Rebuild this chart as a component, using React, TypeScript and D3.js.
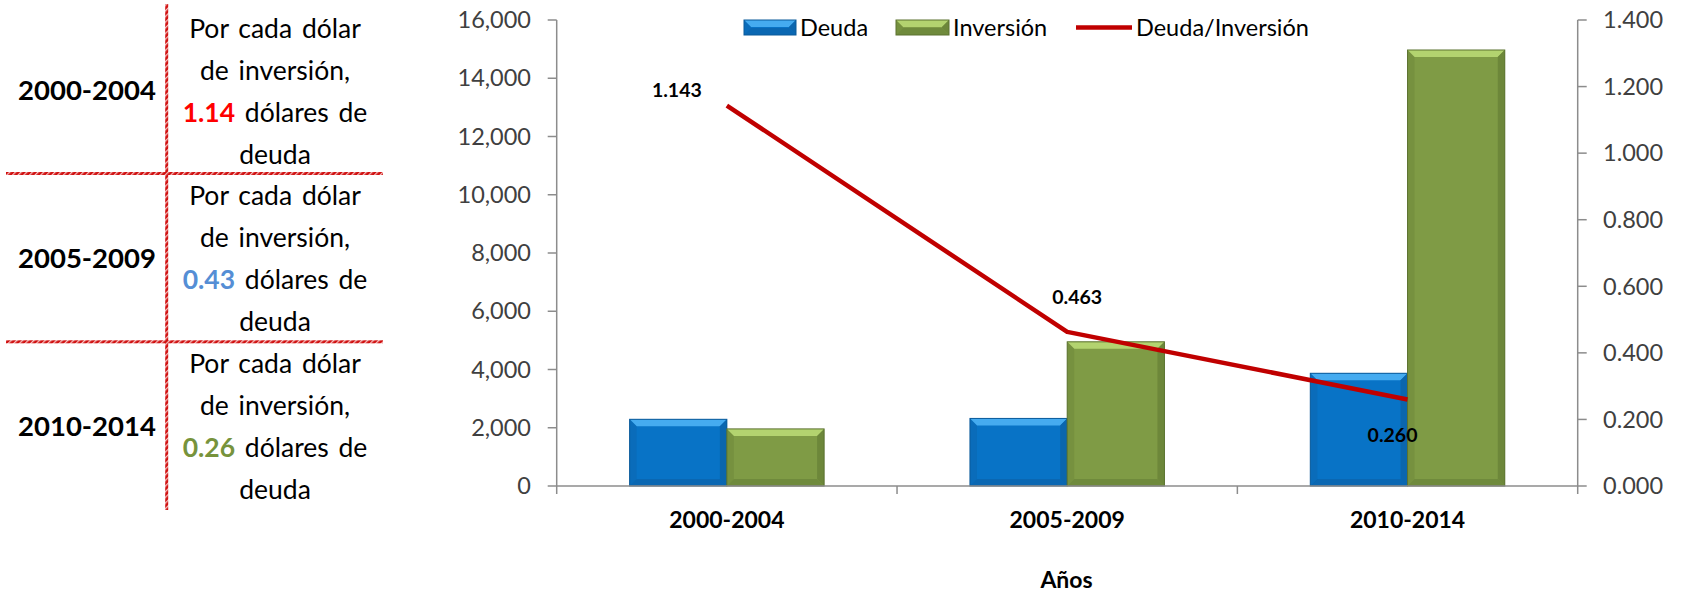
import React from "react";
import * as d3 from "d3";

const categories = ["2000-2004", "2005-2009", "2010-2014"];
const deuda = [2290, 2320, 3870];
const inversion = [1960, 4950, 14970];
const ratio = [1.143, 0.463, 0.26];
const ratioLabels = ["1.143", "0.463", "0.260"];
const leftTicks = [0, 2000, 4000, 6000, 8000, 10000, 12000, 14000, 16000];
const rightTicks = [0, 0.2, 0.4, 0.6, 0.8, 1.0, 1.2, 1.4];
const panelPeriods = ["2000-2004", "2005-2009", "2010-2014"];
const panelValues = ["1.14", "0.43", "0.26"];
const panelColors = ["#FF0000", "#558ED5", "#77933C"];
const seriesNames = ["Deuda", "Inversión", "Deuda/Inversión"];
const axisTitle = "Años";

const W = 1682;
const H = 594;
const FONT = "Lato, 'Open Sans', sans-serif";

const x = d3.scaleBand<string>().domain(categories).range([556.7, 1577.7]).paddingInner(0).paddingOuter(0);
const yL = d3.scaleLinear().domain([0, 16000]).range([486, 20]);
const yR = d3.scaleLinear().domain([0, 1.4]).range([486, 20]);
const barW = x.bandwidth() / 3.5;

const blue = { main: "#0873C6", top: "#45ABF0", side: "#0B66AE", bottom: "#0A67B2", stroke: "#0A5A9A" };
const green = { main: "#7F9B45", top: "#B3D36F", side: "#6D873A", bottom: "#6F8A3C", stroke: "#5C7330" };

function BevelRect({ x0, y0, w, h, c }: { x0: number; y0: number; w: number; h: number; c: any }) {
  const b = Math.min(7, h / 2, w / 2);
  const x1 = x0 + w;
  const y1 = y0 + h;
  return (
    <g>
      <rect x={x0} y={y0} width={w} height={h} fill={c.main} />
      <polygon points={`${x0},${y0} ${x1},${y0} ${x1 - b},${y0 + b} ${x0 + b},${y0 + b}`} fill={c.top} />
      <polygon points={`${x0},${y1} ${x1},${y1} ${x1 - b},${y1 - b} ${x0 + b},${y1 - b}`} fill={c.bottom} />
      <polygon points={`${x0},${y0} ${x0 + b},${y0 + b} ${x0 + b},${y1 - b} ${x0},${y1}`} fill={c.side} opacity={0.5} />
      <polygon points={`${x1},${y0} ${x1 - b},${y0 + b} ${x1 - b},${y1 - b} ${x1},${y1}`} fill={c.side} />
      <rect x={x0} y={y0} width={w} height={h} fill="none" stroke={c.stroke} strokeWidth={1} />
    </g>
  );
}

const labelOffsets = [
  [-50, -15],
  [10, -35],
  [-15, 36],
];

const blockTop = [38, 205, 373];
const lineGap = 42;
const yearBase = [100, 268, 436];

export default function App() {
  const line = d3
    .line<number>()
    .x((_, i) => (x(categories[i]) as number) + x.bandwidth() / 2)
    .y((d) => yR(d));

  const axisColor = "#8C8C8C";
  const textColor = "#404040";

  return (
    <div style={{ position: "absolute", left: 0, top: 0 }}>
      <svg width={W} height={H} style={{ display: "block", background: "#fff" }}>
        <defs>
          <pattern id="hatch" width="4" height="4" patternUnits="userSpaceOnUse" patternTransform="rotate(45)">
            <rect width="4" height="4" fill="#D01010" />
            <rect width="1.3" height="4" fill="#F4C0C0" />
          </pattern>
        </defs>

        {/* Left panel */}
        <rect x={165.2} y={4} width={3} height={506} fill="url(#hatch)" />
        <rect x={6} y={172} width={377} height={3} fill="url(#hatch)" />
        <rect x={6} y={340.3} width={377} height={3} fill="url(#hatch)" />
        {panelPeriods.map((p, i) => (
          <g key={p}>
            <text x={87} y={yearBase[i]} textAnchor="middle" fontFamily={FONT} fontWeight={700} fontSize={27.5} fill="#000">
              {p}
            </text>
            <text fontFamily={FONT} fontSize={26.5} fill="#000" textAnchor="middle" style={{ wordSpacing: "3px" }}>
              <tspan x={275} y={blockTop[i]}>Por cada dólar</tspan>
              <tspan x={275} y={blockTop[i] + lineGap}>de inversión,</tspan>
              <tspan x={275} y={blockTop[i] + lineGap * 2}>
                <tspan fill={panelColors[i]} fontWeight={700}>{panelValues[i]}</tspan> dólares de
              </tspan>
              <tspan x={275} y={blockTop[i] + lineGap * 3}>deuda</tspan>
            </text>
          </g>
        ))}

        {/* Bars */}
        {categories.map((c, i) => {
          const cx = (x(c) as number) + x.bandwidth() / 2;
          return (
            <g key={c}>
              <BevelRect x0={cx - barW} y0={yL(deuda[i])} w={barW} h={yL(0) - yL(deuda[i])} c={blue} />
              <BevelRect x0={cx} y0={yL(inversion[i])} w={barW} h={yL(0) - yL(inversion[i])} c={green} />
            </g>
          );
        })}

        {/* Axes */}
        <line x1={556.7} x2={556.7} y1={20} y2={494} stroke={axisColor} strokeWidth={1.5} />
        {leftTicks.map((t) => (
          <g key={t}>
            <line x1={547.7} x2={556.7} y1={yL(t)} y2={yL(t)} stroke={axisColor} strokeWidth={1.5} />
            <text x={531} y={yL(t)} dy="0.35em" textAnchor="end" fontFamily={FONT} fontSize={23.5} fill={textColor}>
              {d3.format(",")(t)}
            </text>
          </g>
        ))}
        <line x1={1577.7} x2={1577.7} y1={20} y2={494} stroke={axisColor} strokeWidth={1.5} />
        {rightTicks.map((t) => (
          <g key={t}>
            <line x1={1577.7} x2={1586.7} y1={yR(t)} y2={yR(t)} stroke={axisColor} strokeWidth={1.5} />
            <text x={1603} y={yR(t)} dy="0.35em" textAnchor="start" fontFamily={FONT} fontSize={23.5} fill={textColor}>
              {d3.format(".3f")(t)}
            </text>
          </g>
        ))}
        <line x1={556.7} x2={1577.7} y1={486} y2={486} stroke={axisColor} strokeWidth={1.5} />
        {categories.slice(1).map((c) => (
          <line key={c} x1={x(c) as number} x2={x(c) as number} y1={486} y2={494} stroke={axisColor} strokeWidth={1.5} />
        ))}
        {categories.map((c) => (
          <text key={c} x={(x(c) as number) + x.bandwidth() / 2} y={528} textAnchor="middle" fontFamily={FONT} fontWeight={700} fontSize={23} fill="#000">
            {c}
          </text>
        ))}
        <text x={1066.5} y={588} textAnchor="middle" fontFamily={FONT} fontWeight={700} fontSize={23} fill="#000">
          {axisTitle}
        </text>

        {/* Line */}
        <path d={line(ratio) || ""} fill="none" stroke="#C00000" strokeWidth={4.5} strokeLinejoin="round" />
        {ratio.map((r, i) => (
          <text
            key={i}
            x={(x(categories[i]) as number) + x.bandwidth() / 2 + labelOffsets[i][0]}
            y={yR(r) + labelOffsets[i][1]}
            dy="0.35em"
            textAnchor="middle"
            fontFamily={FONT}
            fontWeight={700}
            fontSize={19.5}
            fill="#000"
          >
            {ratioLabels[i]}
          </text>
        ))}

        {/* Legend */}
        <BevelRect x0={744} y0={20} w={52} h={15} c={blue} />
        <text x={800} y={27.5} dy="0.35em" fontFamily={FONT} fontSize={23.5} fill="#000">{seriesNames[0]}</text>
        <BevelRect x0={896} y0={20} w={53} h={15} c={green} />
        <text x={953} y={27.5} dy="0.35em" fontFamily={FONT} fontSize={23.5} fill="#000">{seriesNames[1]}</text>
        <line x1={1076} x2={1132} y1={27.5} y2={27.5} stroke="#C00000" strokeWidth={4.5} />
        <text x={1136} y={27.5} dy="0.35em" fontFamily={FONT} fontSize={23.5} fill="#000">{seriesNames[2]}</text>
      </svg>
    </div>
  );
}
